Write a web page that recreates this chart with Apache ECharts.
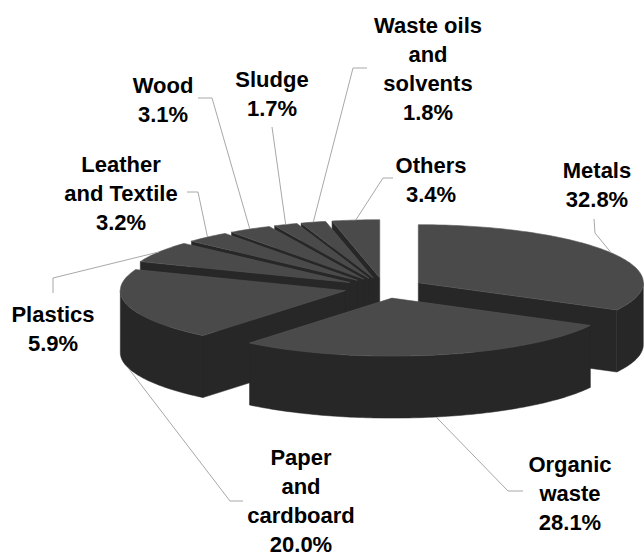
<!DOCTYPE html>
<html><head><meta charset="utf-8">
<script src="https://cdn.jsdelivr.net/npm/echarts@6/dist/echarts.min.js"></script>
<style>html,body{margin:0;padding:0;background:#fff}#chart{width:644px;height:555px}</style>
</head><body><div id="chart"></div>
<script>
// ---- data ----
const categories = ['Metals', 'Organic\nwaste', 'Paper\nand\ncardboard', 'Plastics', 'Leather\nand Textile', 'Wood', 'Sludge', 'Waste oils\nand\nsolvents', 'Others'];
const shares = [32.8, 28.1, 20.0, 5.9, 3.2, 3.1, 1.7, 1.8, 3.4];

// ---- layout (pixels, not data) ----
const PIE = { cx: 384, cy: 288, rx: 225, ry: 58, depth: 62, explode: 40 };
const labelLayout = [
  { x: 597, y: 178, path: [[594, 219], [595, 233]] },
  { x: 570, y: 472, path: [[523, 491], [508, 491]] },
  { x: 301, y: 465, path: [[243, 501], [230, 501]] },
  { x: 53,  y: 322, path: [[53, 293], [53, 278]] },
  { x: 121, y: 172, path: [[187, 192], [198, 192]] },
  { x: 163, y: 93,  path: [[198, 98], [212, 98]] },
  { x: 272, y: 87,  path: [[272, 127]] },
  { x: 428, y: 33,  path: [[367, 68], [353, 68]] },
  { x: 431, y: 173, path: [[393, 178], [383, 178]] }
];
const LINE_H = 29;
const FONT = 'bold 22px "Liberation Sans", Arial, sans-serif';
const TOP_COLOR = '#4a4a4a', SIDE_COLOR = '#272727', LEADER = '#a8a8a8';

// ---- derived angles ----
const total = shares.reduce((a, b) => a + b, 0);
const starts = [], ends = [];
let acc = 0;
shares.forEach(v => { starts.push(acc / total * 360); acc += v; ends.push(acc / total * 360); });
const mids = starts.map((s, i) => (s + ends[i]) / 2);
const rad = d => d * Math.PI / 180;
const order = mids.map((m, i) => i).sort((a, b) => (-Math.cos(rad(mids[a]))) - (-Math.cos(rad(mids[b]))));
const rank = []; order.forEach((idx, r) => rank[idx] = r);

function pt(ox, oy, ang, down) {
  return [ox + PIE.rx * Math.sin(rad(ang)), oy - PIE.ry * Math.cos(rad(ang)) + (down || 0)];
}
function arc(ox, oy, a0, a1, down) {
  const n = Math.max(2, Math.ceil(Math.abs(a1 - a0) / 1));
  const res = [];
  for (let k = 0; k <= n; k++) res.push(pt(ox, oy, a0 + (a1 - a0) * k / n, down));
  return res;
}

function renderItem(params, api) {
  const i = params.dataIndex;
  const a0 = starts[i], a1 = ends[i], m = mids[i];
  const ox = PIE.cx + PIE.explode * Math.sin(rad(m));
  const oy = PIE.cy - PIE.explode * (PIE.ry / PIE.rx) * Math.cos(rad(m));
  const D = PIE.depth;
  const baseZ = rank[i] * 10;
  const children = [];
  const sideStyle = { fill: SIDE_COLOR, stroke: SIDE_COLOR, lineWidth: 0.5 };
  // radial faces
  if (Math.sin(rad(a0)) < -1e-6) {
    const p = pt(ox, oy, a0);
    children.push({ type: 'polygon', z2: baseZ + 1, shape: { points: [[ox, oy], p, [p[0], p[1] + D], [ox, oy + D]] }, style: sideStyle });
  }
  if (Math.sin(rad(a1)) > 1e-6) {
    const p = pt(ox, oy, a1);
    children.push({ type: 'polygon', z2: baseZ + 1, shape: { points: [[ox, oy], p, [p[0], p[1] + D], [ox, oy + D]] }, style: sideStyle });
  }
  // outer wall (front-facing part)
  const w0 = Math.max(a0, 90), w1 = Math.min(a1, 270);
  if (w1 > w0) {
    const topArc = arc(ox, oy, w0, w1, 0);
    const botArc = arc(ox, oy, w0, w1, D).reverse();
    children.push({ type: 'polygon', z2: baseZ + 2, shape: { points: topArc.concat(botArc) }, style: sideStyle });
  }
  // top
  children.push({ type: 'polygon', z2: baseZ + 3, shape: { points: [[ox, oy]].concat(arc(ox, oy, a0, a1, 0)) }, style: { fill: TOP_COLOR, stroke: '#555', lineWidth: 0.6 } });

  // leader line
  const L = labelLayout[i];
  const anchor = Math.cos(rad(m)) < 0 ? pt(ox, oy, m, D) : pt(ox, oy, m, 0);
  children.push({ type: 'polyline', z2: 900, shape: { points: L.path.concat([anchor]) }, style: { stroke: LEADER, lineWidth: 1, fill: null } });
  // label text
  const lines = categories[i].split('\n').concat([api.value(0).toFixed(1) + '%']);
  lines.forEach((t, j) => {
    children.push({ type: 'text', z2: 1000, style: { text: t, x: L.x, y: L.y + j * LINE_H - 8, font: FONT, fill: '#000', align: 'center', verticalAlign: 'middle' } });
  });
  return { type: 'group', children };
}

const chart = echarts.init(document.getElementById('chart'), null, { renderer: 'svg' });
chart.setOption({
  animation: false,
  backgroundColor: '#fff',
  series: [{
    type: 'custom',
    coordinateSystem: 'none',
    silent: true,
    renderItem,
    data: shares.map((v, i) => ({ name: categories[i].replace(/\n/g, ' '), value: [v, i] }))
  }]
});
</script>
</body></html>
